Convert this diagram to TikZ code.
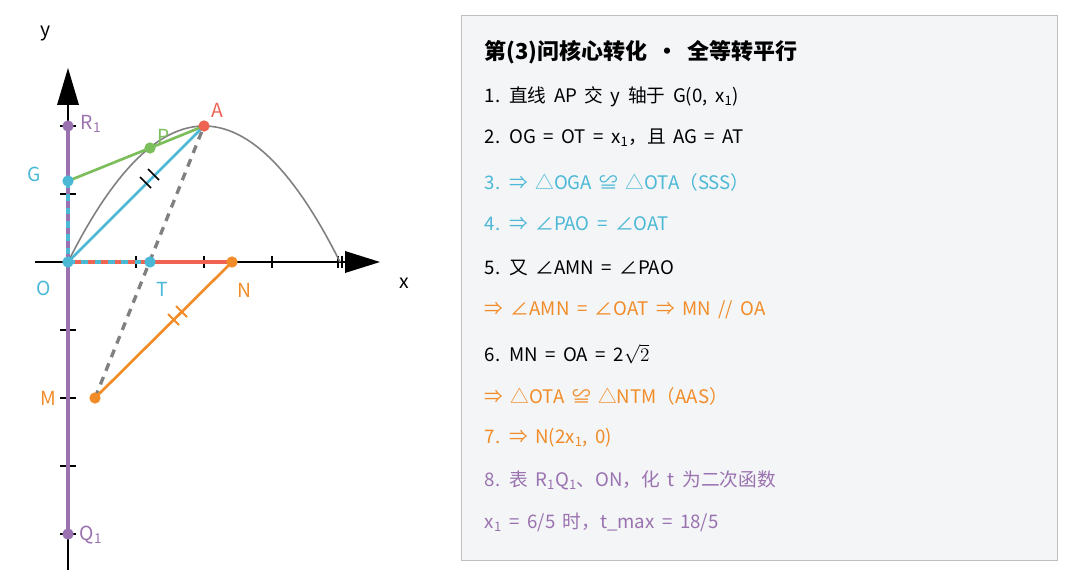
\documentclass[tikz,border=0pt]{standalone}
\usepackage{fontspec}
\setmainfont{Noto Sans CJK SC}[WordSpace=1.8]
\usetikzlibrary{arrows.meta}
\definecolor{cy}{HTML}{4BB8D6}
\definecolor{rd}{HTML}{EE6352}
\definecolor{gr}{HTML}{7DBE5C}
\definecolor{og}{HTML}{F28C28}
\definecolor{pu}{HTML}{9B72B0}
\definecolor{bx}{HTML}{F3F5F7}
\begin{document}
\begin{tikzpicture}[x=0.75pt,y=-0.75pt,
 lab/.style={font=\fontsize{14.5}{16}\selectfont},
 tx/.style={anchor=west,font=\fontsize{14}{16}\selectfont},
 dot/.style={circle,fill,inner sep=0pt,minimum size=8.5pt},
 tk/.style={black,line width=1.2pt}]
\useasboundingbox (0,0) rectangle (1080,588);
% axes
\draw[line width=1.5pt] (35,262) -- (345,262);
\draw[line width=1.5pt] (68,570) -- (68,95);
\fill (345,251) -- (380,262) -- (345,273) -- cycle;
\fill (57,105) -- (68,68) -- (79,105) -- cycle;
\foreach \i in {136,204,272} \draw[tk] (\i,256)--(\i,268);
\draw[tk] (338,256)--(338,268); \draw[tk] (342,256)--(342,268);
\foreach \j in {194,126,330,398,466,534} \draw[tk] (60,\j)--(76,\j);
% parabola
\draw[gray,line width=1.2pt,domain=0:4,samples=60] plot ({68+68*\x},{262-68*(-\x*\x/2+2*\x)});
% colored segments
\draw[pu,line width=2.5pt] (68,126) -- (68,534);
\draw[cy,line width=2.5pt,dash pattern=on 5pt off 5pt] (68,181) -- (68,262);
\draw[rd,line width=2.5pt] (68,262) -- (232,262);
\draw[cy,line width=2.5pt,dash pattern=on 5pt off 5pt] (68,262) -- (150,262);
\draw[gray,line width=2.5pt,dash pattern=on 6pt off 5pt] (95,398) -- (204,126);
\draw[gr,line width=2pt] (68,181) -- (150,148) -- (204,126);
\draw[cy,line width=2pt] (68,262) -- (204,126);
\draw[og,line width=2pt] (95,398) -- (232,262);
% equal marks
\draw[tk] (140,177)--(151,188); \draw[tk] (148,169)--(159,180);
\draw[og,line width=1.4pt] (168,314)--(179,325); \draw[og,line width=1.4pt] (176,306)--(187,317);
% dots
\node[dot,pu] (R) at (68,126) {}; \node[dot,pu] (Q) at (68,534) {};
\node[dot,gr] (P) at (150,148) {}; \node[dot,rd] (A) at (204,126) {};
\node[dot,cy] (G) at (68,181) {}; \node[dot,cy] (O) at (68,262) {};
\node[dot,cy] (T) at (150,262) {}; \node[dot,og] (N) at (232,262) {};
\node[dot,og] (M) at (95,398) {};
% labels
\node[lab,pu] at (91,124) {R\textsubscript{1}};
\node[lab,gr] at (164,136) {P};
\node[lab,rd] at (217,110) {A};
\node[lab,cy] at (34,174) {G};
\node[lab,cy] at (44,288) {O};
\node[lab,cy] at (162,289) {T};
\node[lab,og] at (244,290) {N};
\node[lab] at (404,283) {x};
\node[lab] at (46,34) {y};
\node[lab,og] at (48,398) {M};
\node[lab,pu] at (91,535) {Q\textsubscript{1}};
% box
\draw[fill=bx,draw=gray!50] (461,15) rectangle (1057,560);
\node[tx,font=\fontsize{16.5}{18}\bfseries\selectfont] at (480,52) {第(3)问核心转化 · 全等转平行};
\node[tx] at (480,97) {1. 直线 AP 交 y 轴于 G(0, x\textsubscript{1})};
\node[tx] at (480,138) {2. OG = OT = x\textsubscript{1}，且 AG = AT};
\node[tx,cy] at (480,182) {3. ⇒ △OGA ≌ △OTA（SSS）};
\node[tx,cy] at (480,224) {4. ⇒ ∠PAO = ∠OAT};
\node[tx] at (480,268) {5. 又 ∠AMN = ∠PAO};
\node[tx,og] at (480,310) {⇒ ∠AMN = ∠OAT ⇒ MN // OA};
\node[tx] at (480,354) {6. MN = OA = 2$\sqrt{2}$};
\node[tx,og] at (480,396) {⇒ △OTA ≌ △NTM（AAS）};
\node[tx,og] at (480,438) {7. ⇒ N(2x\textsubscript{1}, 0)};
\node[tx,pu] at (480,480) {8. 表 R\textsubscript{1}Q\textsubscript{1}、ON，化 t 为二次函数};
\node[tx,pu] at (480,522) {x\textsubscript{1} = 6/5 时，t\_max = 18/5};
\end{tikzpicture}
\end{document}
